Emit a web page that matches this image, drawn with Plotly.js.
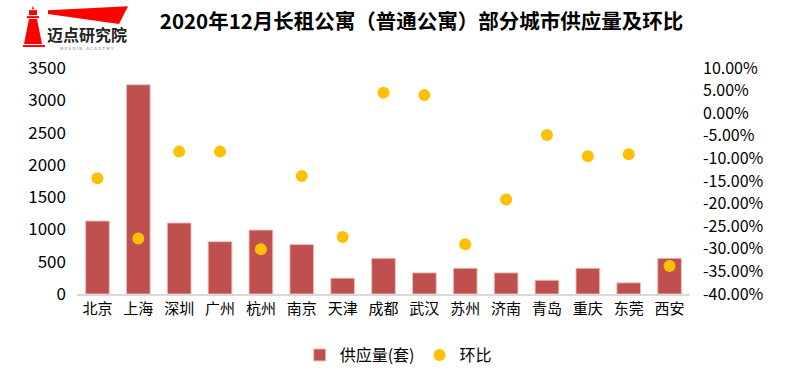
<!DOCTYPE html>
<html>
<head>
<meta charset="utf-8">
<script src="https://cdn.plot.ly/plotly-3.0.1.min.js"></script>
<style>
html,body{margin:0;padding:0;background:#fff;}
#chart{width:800px;height:384px;}
</style>
</head>
<body>
<div id="chart"></div>
<script>
var cities = ['北京','上海','深圳','广州','杭州','南京','天津','成都','武汉','苏州','济南','青岛','重庆','东莞','西安'];
var supply = [1130, 3240, 1100, 810, 990, 765, 245, 553, 327, 399, 327, 213, 399, 173, 553];
var momChange = [-0.144, -0.277, -0.085, -0.085, -0.301, -0.139, -0.274, 0.045, 0.040, -0.290, -0.191, -0.048, -0.095, -0.091, -0.338];
var leftTicks = [0, 500, 1000, 1500, 2000, 2500, 3000, 3500];
var rightTicks = [-0.40, -0.35, -0.30, -0.25, -0.20, -0.15, -0.10, -0.05, 0, 0.05, 0.10];
var rightTickText = rightTicks.map(function(v){ return (v*100).toFixed(2) + '%'; });

var FONT = '"Noto Sans CJK SC", "Microsoft YaHei", sans-serif';
var L = 77, R = 690, T = 68, B = 294.5;
function px(x){ return (x - L) / (R - L); }
function py(y){ return (B - y) / (B - T); }
function pathPx(pts){
  return pts.map(function(p, i){ return (i ? 'L' : 'M') + px(p[0]) + ',' + py(p[1]); }).join(' ') + ' Z';
}

var traces = [
  {
    type: 'bar', name: '供应量(套)', x: cities, y: supply,
    marker: {color: '#C0504D', line: {color: 'rgba(240,190,190,0.9)', width: 1}},
    hoverinfo: 'x+y'
  },
  {
    type: 'scatter', mode: 'markers', name: '环比', x: cities, y: momChange, yaxis: 'y2',
    marker: {color: '#FFC000', size: 12}
  }
];

var shapes = [
  {type: 'path', xref: 'paper', yref: 'paper', path: pathPx([[48,10],[128,6],[119,24],[48,14]]), fillcolor: '#FF0000', line: {width: 0}},
  {type: 'path', xref: 'paper', yref: 'paper', path: pathPx([[32,9],[33,5],[34,9]]), fillcolor: '#FF0000', line: {width: 0}},
  {type: 'path', xref: 'paper', yref: 'paper', path: pathPx([[29,10],[37,10],[37,15],[29,15]]), fillcolor: '#FF0000', line: {width: 0}},
  {type: 'path', xref: 'paper', yref: 'paper', path: pathPx([[27,16],[39,16],[39,18],[27,18]]), fillcolor: '#FF0000', line: {width: 0}},
  {type: 'path', xref: 'paper', yref: 'paper', path: pathPx([[29,19],[37,19],[42,44],[24,44]]), fillcolor: '#FF0000', line: {width: 0}},
  {type: 'path', xref: 'paper', yref: 'paper', path: pathPx([[23,45],[45,45],[45,47],[23,47]]), fillcolor: '#FF0000', line: {width: 0}}
];

var annotations = [
  {xref: 'paper', yref: 'paper', x: px(87), y: py(34), text: '<b>迈点研究院</b>', showarrow: false,
   font: {family: FONT, size: 16, color: '#222'}, xanchor: 'center', yanchor: 'middle'},
  {xref: 'paper', yref: 'paper', x: px(87), y: py(48), text: 'M E A D I N   A C A D E M Y', showarrow: false,
   font: {family: 'DejaVu Sans', size: 4, color: '#888'}, xanchor: 'center', yanchor: 'middle'}
];

var layout = {
  width: 800, height: 384,
  margin: {l: L, r: 800 - R, t: T, b: 384 - B, pad: 0, autoexpand: false},
  paper_bgcolor: '#fff', plot_bgcolor: '#fff',
  font: {family: FONT, size: 15, color: '#000'},
  title: {text: '<b>2020年12月长租公寓（普通公寓）部分城市供应量及环比</b>', x: 0.527, xanchor: 'center', y: 0.943, yanchor: 'middle',
          font: {family: FONT, size: 20.5, color: '#000'}, automargin: false},
  bargap: 0.42,
  showlegend: true,
  legend: {orientation: 'h', x: 0.524, xanchor: 'center', y: -0.27, yanchor: 'middle', font: {family: FONT, size: 16, color: '#000'}, itemwidth: 30, tracegroupgap: 0},
  xaxis: {
    type: 'category', range: [-0.5, cities.length - 0.5], autorange: false,
    showgrid: false, zeroline: false, showline: true, linecolor: '#D9D9D9', linewidth: 1.5,
    ticks: '', tickfont: {family: FONT, size: 15, color: '#000'}, fixedrange: true, automargin: false
  },
  yaxis: {
    range: [0, 3500], tickvals: leftTicks, showgrid: false, zeroline: false, showline: false, ticks: '',
    tickfont: {family: FONT, size: 17, color: '#000'}, ticklabelstandoff: 10, fixedrange: true, automargin: false
  },
  yaxis2: {
    range: [-0.40, 0.10], overlaying: 'y', side: 'right', tickvals: rightTicks, ticktext: rightTickText,
    showgrid: false, zeroline: false, showline: false, ticks: '',
    tickfont: {family: FONT, size: 16, color: '#000'}, ticklabelstandoff: 12, fixedrange: true, automargin: false
  },
  shapes: shapes,
  annotations: annotations
};

Plotly.newPlot('chart', traces, layout, {displayModeBar: false, staticPlot: true});
</script>
</body>
</html>
